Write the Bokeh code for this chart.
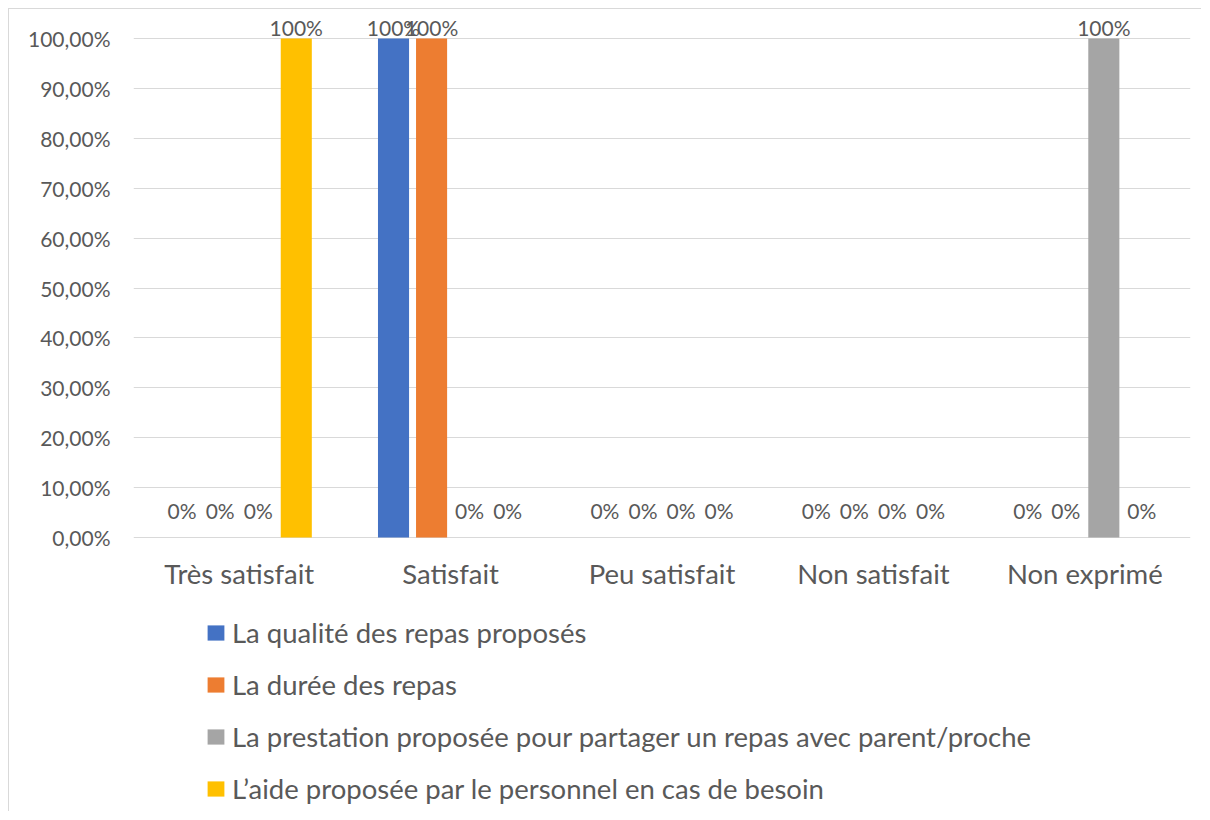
from bokeh.plotting import figure
from bokeh.models import (ColumnDataSource, FactorRange, Range1d, FixedTicker,
                          CustomJSTickFormatter, LabelSet, Legend, LegendItem)
from bokeh.core.properties import value
from bokeh.transform import dodge
from bokeh.embed import file_html
from bokeh.resources import INLINE

categories = ["Très satisfait", "Satisfait", "Peu satisfait", "Non satisfait", "Non exprimé"]
series_names = [
    "La qualité des repas proposés",
    "La durée des repas",
    "La prestation proposée pour partager un repas avec parent/proche",
    "L\u2019aide proposée par le personnel en cas de besoin",
]
qualite = [0, 100, 0, 0, 0]
duree = [0, 100, 0, 0, 0]
prestation = [0, 0, 0, 0, 100]
aide = [100, 0, 0, 0, 0]
series_values = [qualite, duree, prestation, aide]
colors = ["#4472C4", "#ED7D31", "#A5A5A5", "#FFC000"]
y_ticks = [0, 10, 20, 30, 40, 50, 60, 70, 80, 90, 100]

FONT = "Lato"
TXT = "#595959"

# frame spans the full height below the top margin; 0 sits 519px below frame top
frame_h = 794
px_per_unit = 4.99
y_end = 100 + 20 / px_per_unit
y_start = -(frame_h - 519) / px_per_unit

p = figure(x_range=FactorRange(*categories, range_padding=0),
           y_range=Range1d(y_start, y_end),
           width=1193, height=803, output_backend="svg", toolbar_location=None,
           min_border_left=124, min_border_right=12, min_border_top=9,
           min_border_bottom=0)
p.margin = (8, 0, 0, 8)
p.styles = {"border-top": "1px solid #d9d9d9", "border-left": "1px solid #d9d9d9"}
p.outline_line_color = None
p.background_fill_color = "white"
p.border_fill_color = "white"

offsets = [-0.27, -0.09, 0.09, 0.27]
items = []
for name, vals, col, off in zip(series_names, series_values, colors, offsets):
    src = ColumnDataSource(dict(
        cat=categories, v=vals,
        lbl=[f"{v:g}%" for v in vals],
        yo=[27 if v == 0 else 11 for v in vals],
    ))
    r = p.vbar(x=dodge("cat", off, range=p.x_range), top="v", width=0.147,
               source=src, fill_color=col, line_color=None)
    items.append(LegendItem(label=name, renderers=[r]))
    labels = LabelSet(x=dodge("cat", off, range=p.x_range), y="v", text="lbl",
                      y_offset="yo", source=src, text_align="center",
                      text_baseline="middle", text_font=value(FONT),
                      text_font_size=value("21px"), text_color=TXT)
    p.add_layout(labels)

# category labels under the baseline
cat_src = ColumnDataSource(dict(cat=categories, y=[0] * len(categories)))
p.add_layout(LabelSet(x="cat", y="y", text="cat", source=cat_src, y_offset=-36,
                      text_align="center", text_baseline="middle",
                      text_font=value(FONT), text_font_size=value("27.5px"),
                      text_color=TXT))

p.xaxis.visible = False

p.yaxis.ticker = FixedTicker(ticks=y_ticks)
p.yaxis.formatter = CustomJSTickFormatter(code="return tick.toFixed(2).replace('.', ',') + '%';")
p.yaxis.axis_line_color = None
p.yaxis.major_tick_line_color = None
p.yaxis.minor_tick_line_color = None
p.yaxis.major_label_standoff = 17
p.yaxis.major_label_text_font = FONT
p.yaxis.major_label_text_font_size = "21px"
p.yaxis.major_label_text_color = TXT

p.xgrid.grid_line_color = None
p.ygrid.grid_line_color = "#d9d9d9"
p.ygrid.grid_line_width = 1

legend = Legend(items=items, location=(72, 7), orientation="vertical",
                glyph_width=21, glyph_height=19, label_standoff=6,
                label_text_font=FONT, label_text_font_size="27.5px",
                label_text_color=TXT, spacing=19, padding=0, margin=0,
                border_line_alpha=0, background_fill_alpha=0)
p.add_layout(legend, "center")

open("out.html", "w").write(file_html(p, INLINE))
